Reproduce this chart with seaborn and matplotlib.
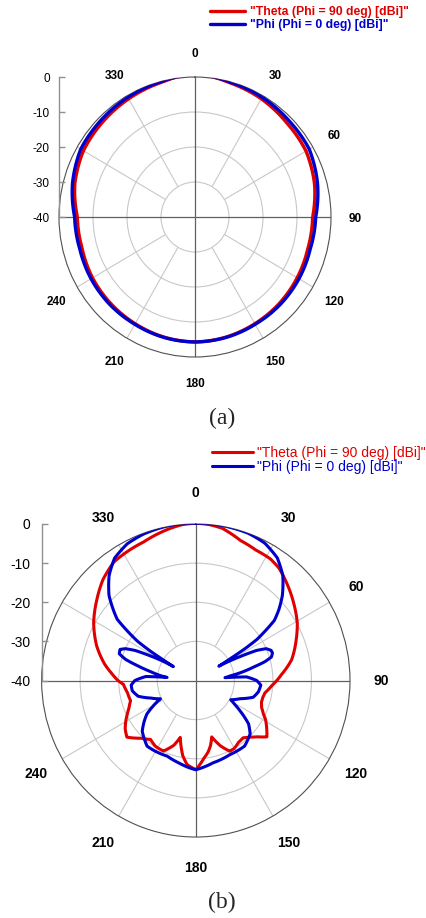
import numpy as np
import pandas as pd
import matplotlib
matplotlib.use("Agg")
import matplotlib.pyplot as plt
import matplotlib.transforms as mtransforms
import seaborn as sns

sns.set_theme(style="white")
plt.rcParams['font.family'] = ['Liberation Sans', 'DejaVu Sans']
plt.rcParams['axes.unicode_minus'] = False

THETA_LABEL = '"Theta (Phi = 90 deg) [dBi]"'
PHI_LABEL = '"Phi (Phi = 0 deg) [dBi]"'
RED = '#e00000'
BLUE = '#0000cc'

# (a) pattern, angles in degrees, gain in dBi (normalised)
a_ang = [0, 5, 15, 30, 45, 60, 75, 90, 105, 120, 135, 150, 165, 180,
         195, 210, 225, 240, 255, 270, 285, 300, 315, 330, 345, 355, 360]
a_theta = [2.0, 0.6, -0.3, -1.0, -1.9, -2.3, -3.6, -5.4, -5.6, -5.3, -5.0, -4.8, -4.5, -4.3,
           -4.5, -4.8, -5.0, -5.2, -5.6, -5.4, -3.4, -2.1, -1.6, -1.0, -0.3, 0.6, 2.0]
a_phi = [2.0, 0.6, -0.1, -0.5, -1.0, -1.2, -2.7, -4.5, -4.9, -4.7, -4.6, -4.6, -4.4, -4.3,
         -4.4, -4.6, -4.6, -4.7, -4.9, -4.6, -2.7, -1.2, -0.9, -0.5, -0.1, 0.6, 2.0]

# (b) pattern
b_theta_ang = [0, 5, 10, 18, 25, 32, 37, 43, 52, 61, 68, 78, 86, 90, 94, 100, 104, 108,
               112, 116, 119, 124, 128, 132, 136, 140, 145, 150, 154, 159, 164, 167, 170,
               174, 177, 180, 183, 186, 190, 195.5, 199, 205, 212, 218, 224, 231, 236, 240,
               244, 248, 253, 260, 267, 270, 275, 280, 289, 299, 309, 317, 325, 331, 339,
               350, 355, 360]
b_theta_gain = [0.2, 0.0, -0.5, -2.4, -3.2, -3.4, -4.1, -5.6, -7.8, -9.9, -11.9, -14.6, -17.7,
                -19.0, -20.3, -21.8, -22.1, -22.1, -21.6, -20.5, -19.3, -17.8, -16.6, -18.5,
                -19.9, -20.9, -20.7, -20.0, -19.9, -22.1, -25.0, -23.0, -21.5, -20.0, -18.6,
                -17.2, -17.8, -18.4, -20.5, -24.9, -22.5, -20.1, -20.2, -20.9, -19.5, -17.0,
                -17.9, -19.0, -20.2, -21.3, -22.3, -22.0, -21.2, -19.8, -18.0, -16.0, -12.8,
                -9.7, -7.0, -4.7, -3.0, -2.6, -2.1, -0.6, 0.0, 0.2]
b_phi_ang = [0, 10, 20, 27, 34, 40, 46, 50, 53, 56.5, 57.5, 58.5, 60, 62, 64, 66, 68.5, 70.5,
             73, 75, 77, 80, 82.5, 84.5, 86, 90, 94, 100, 106, 112, 118.5, 121, 124, 129, 134,
             143, 155, 168, 180, 184, 192, 201, 210, 217, 227, 232, 236, 240, 243, 249, 255,
             261, 266, 270, 274.5, 276, 277.5, 281, 284, 286.5, 289, 292, 294, 296, 298, 300,
             301.5, 302.5, 303.5, 307.5, 314, 320, 326, 333, 340, 350, 360]
b_phi_gain = [0.2, 0.2, 0.0, -0.6, -2.2, -4.9, -8.8, -11.9, -14.5, -21.0, -25.0, -33.0, -30.5,
              -27.0, -22.5, -20.0, -19.0, -18.9, -19.5, -21.5, -24.5, -28.0, -31.0, -32.4,
              -26.8, -24.2, -23.1, -23.5, -24.5, -27.6, -29.7, -28.3, -26.2, -22.4, -20.4,
              -19.0, -19.1, -18.5, -17.2, -17.6, -18.5, -19.3, -19.1, -19.0, -21.0, -23.0,
              -24.7, -27.5, -29.7, -27.5, -24.5, -23.3, -23.2, -24.2, -27.0, -32.5, -31.0,
              -28.0, -24.5, -21.0, -19.0, -18.8, -20.0, -22.5, -26.5, -30.0, -33.2, -26.0,
              -22.0, -14.3, -8.7, -5.0, -2.3, -0.8, -0.2, 0.2, 0.2]

angle_ticks = [0, 30, 60, 90, 120, 150, 180, 210, 240, 330]
r_ticks = [0, -10, -20, -30, -40]
r_labels = ['0', '-10', '-20', '-30', '-40']


def make_df(th_ang, th_gain, ph_ang, ph_gain):
    d1 = pd.DataFrame({'angle': th_ang, 'gain': th_gain, 'series': THETA_LABEL})
    d2 = pd.DataFrame({'angle': ph_ang, 'gain': ph_gain, 'series': PHI_LABEL})
    df = pd.concat([d1, d2], ignore_index=True)
    df['rad'] = np.radians(df['angle'])
    return df


fig = plt.figure(figsize=(4.26, 9.18), dpi=100)


def draw_panel(rect, axis_rect, df, lw, fs_ang, fs_r, r_pad, label_r, label_dy):
    ax = fig.add_axes(rect, projection='polar')
    ax.set_aspect('auto')
    ax.set_theta_zero_location('N')
    ax.set_theta_direction(-1)

    # grid: rings, spokes, cardinal lines
    spokes = np.radians([30, 60, 120, 150, 210, 240, 300, 330])
    ax.vlines(spokes, -30, 0, colors='#c8c8c8', lw=0.8, zorder=1)
    ax.vlines(np.radians([0, 90, 180, 270]), -40, 0, colors='#606060', lw=0.9, zorder=1.5)

    sns.lineplot(data=df, x='rad', y='gain', hue='series',
                 hue_order=[THETA_LABEL, PHI_LABEL],
                 palette={THETA_LABEL: RED, PHI_LABEL: BLUE},
                 sort=False, estimator=None, legend=False, lw=lw, ax=ax, zorder=3)
    # follow the polar curve between samples instead of straight chords
    for line in ax.get_lines():
        line.get_path()._interpolation_steps = 40
        line.set_clip_path(ax.patch)

    ax.set_ylim(-40, 0)
    ax.set_yticks([-30, -20, -10])
    ax.set_yticklabels([])
    ax.set_xticks([])
    ax.yaxis.grid(True, color='#c8c8c8', lw=0.8)
    ax.set_xlabel('')
    ax.set_ylabel('')
    ax.spines['polar'].set_color('#505050')
    ax.spines['polar'].set_linewidth(0.8)

    tr = mtransforms.offset_copy(ax.transData, fig=fig, x=0, y=label_dy, units='dots')
    for a in angle_ticks:
        ax.text(np.radians(a), label_r, str(a), ha='center', va='center', transform=tr,
                fontsize=fs_ang, fontweight='bold', color='black', clip_on=False)

    # radial scale drawn as a vertical axis at the left edge
    rax = fig.add_axes(axis_rect)
    rax.patch.set_visible(False)
    for s in ['top', 'right', 'bottom']:
        rax.spines[s].set_visible(False)
    rax.spines['left'].set_color('#909090')
    rax.spines['left'].set_linewidth(1.0)
    rax.set_xticks([])
    rax.set_ylim(-40, 0)
    rax.set_yticks(r_ticks)
    rax.set_yticklabels(r_labels)
    rax.tick_params(axis='y', left=True, direction='in', length=4.5, width=1,
                    color='#909090', labelsize=fs_r, pad=r_pad, labelcolor='black')
    return ax


ax_a = draw_panel([0.1385, 0.6111, 0.6385, 0.3050], [0.1385, 0.7636, 0.0005, 0.1525],
                  make_df(a_ang, a_theta, a_ang, a_phi), lw=2.4, fs_ang=8.5, fs_r=8.5,
                  r_pad=6.5, label_r=7.2, label_dy=-2)
ax_b = draw_panel([0.0977, 0.0882, 0.7239, 0.3410], [0.0977, 0.2587, 0.0005, 0.1705],
                  make_df(b_theta_ang, b_theta_gain, b_phi_ang, b_phi_gain), lw=2.2,
                  fs_ang=10, fs_r=10, r_pad=8, label_r=8, label_dy=0)

fig.legend(ax_a.get_lines()[:2], [THETA_LABEL, PHI_LABEL], loc='upper left',
           bbox_to_anchor=(0.493, 0.9935), frameon=False, borderpad=0, borderaxespad=0,
           handlelength=2.85, handletextpad=0.4, labelspacing=0.1,
           labelcolor='linecolor', prop={'size': 8.8, 'weight': 'bold'})
fig.legend(ax_b.get_lines()[:2], [THETA_LABEL, PHI_LABEL], loc='upper left',
           bbox_to_anchor=(0.4977, 0.5140), frameon=False, borderpad=0, borderaxespad=0,
           handlelength=2.95, handletextpad=0.3, labelspacing=0.0,
           labelcolor='linecolor', prop={'size': 10})

fig.text(0.5204, 1 - 418 / 918, '(a)', ha='center', va='center',
         family='Liberation Serif', fontsize=17)
fig.text(0.5204, 1 - 902 / 918, '(b)', ha='center', va='center',
         family='Liberation Serif', fontsize=17)

fig.savefig('out.png', dpi=100)
